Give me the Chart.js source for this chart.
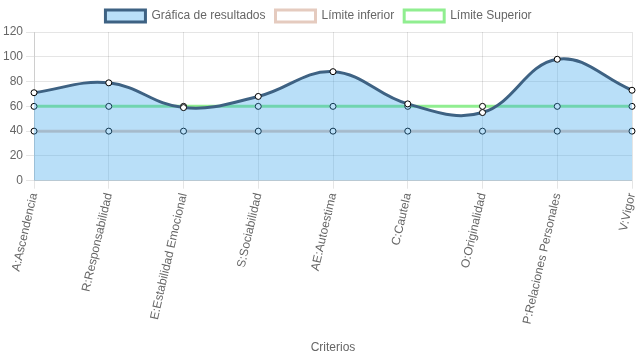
<!DOCTYPE html>
<html><head><meta charset="utf-8">
<script src="https://cdn.jsdelivr.net/npm/chart.js@4/dist/chart.umd.min.js"></script>
<style>html,body{margin:0;padding:0;background:#fff}#w{width:637px;height:359px}</style>
</head><body><div id="w"><canvas id="c"></canvas></div>
<script>
const categories = ["A:Ascendencia","R:Responsabilidad","E:Estabilidad Emocional","S:Sociabilidad","AE:Autoestima","C:Cautela","O:Originalidad","P:Relaciones Personales","V:Vigor"];
const resultados = [71,79,59,68,88,62,55,98,73];
const limiteInferior = [40,40,40,40,40,40,40,40,40];
const limiteSuperior = [60,60,60,60,60,60,60,60,60];
const yTicks = [0,20,40,60,80,100,120];

Chart.defaults.font.family = "Arial, 'Liberation Sans', sans-serif";
Chart.defaults.font.size = 12;
Chart.defaults.color = '#666';
new Chart(document.getElementById('c'), {
  type: 'line',
  data: {
    labels: categories,
    datasets: [
      {label:'Gráfica de resultados', data: resultados, fill: 'origin',
       backgroundColor:'rgba(54,162,235,0.35)', borderColor:'#3e6283', borderWidth:3,
       tension:0.4, pointRadius:3, pointBackgroundColor:'#fff', pointBorderColor:'#000', pointBorderWidth:1},
      {label:'Límite inferior', data: limiteInferior, fill:false,
       backgroundColor:'#fff', borderColor:'rgba(222,190,175,0.8)', borderWidth:3,
       tension:0.4, pointRadius:3, pointBackgroundColor:'#fff', pointBorderColor:'#000', pointBorderWidth:1},
      {label:'Límite Superior', data: limiteSuperior, fill:false,
       backgroundColor:'#fff', borderColor:'#90ee90', borderWidth:3,
       tension:0.4, pointRadius:3, pointBackgroundColor:'#fff', pointBorderColor:'#000', pointBorderWidth:1}
    ]
  },
  options: {
    responsive:true, maintainAspectRatio:false, animation:false,
    plugins:{legend:{labels:{boxWidth:40, boxHeight:12}}, tooltip:{enabled:false}},
    scales:{
      x:{title:{display:true,text:'Criterios'}, ticks:{minRotation:77, maxRotation:77, autoSkip:false},
         afterFit:(s)=>{ s.height += 8; s.paddingRight = 4; }},
      y:{min:0,max:120, afterBuildTicks:(s)=>{s.ticks=yTicks.map(v=>({value:v}));}}
    }
  }
});
</script></body></html>
